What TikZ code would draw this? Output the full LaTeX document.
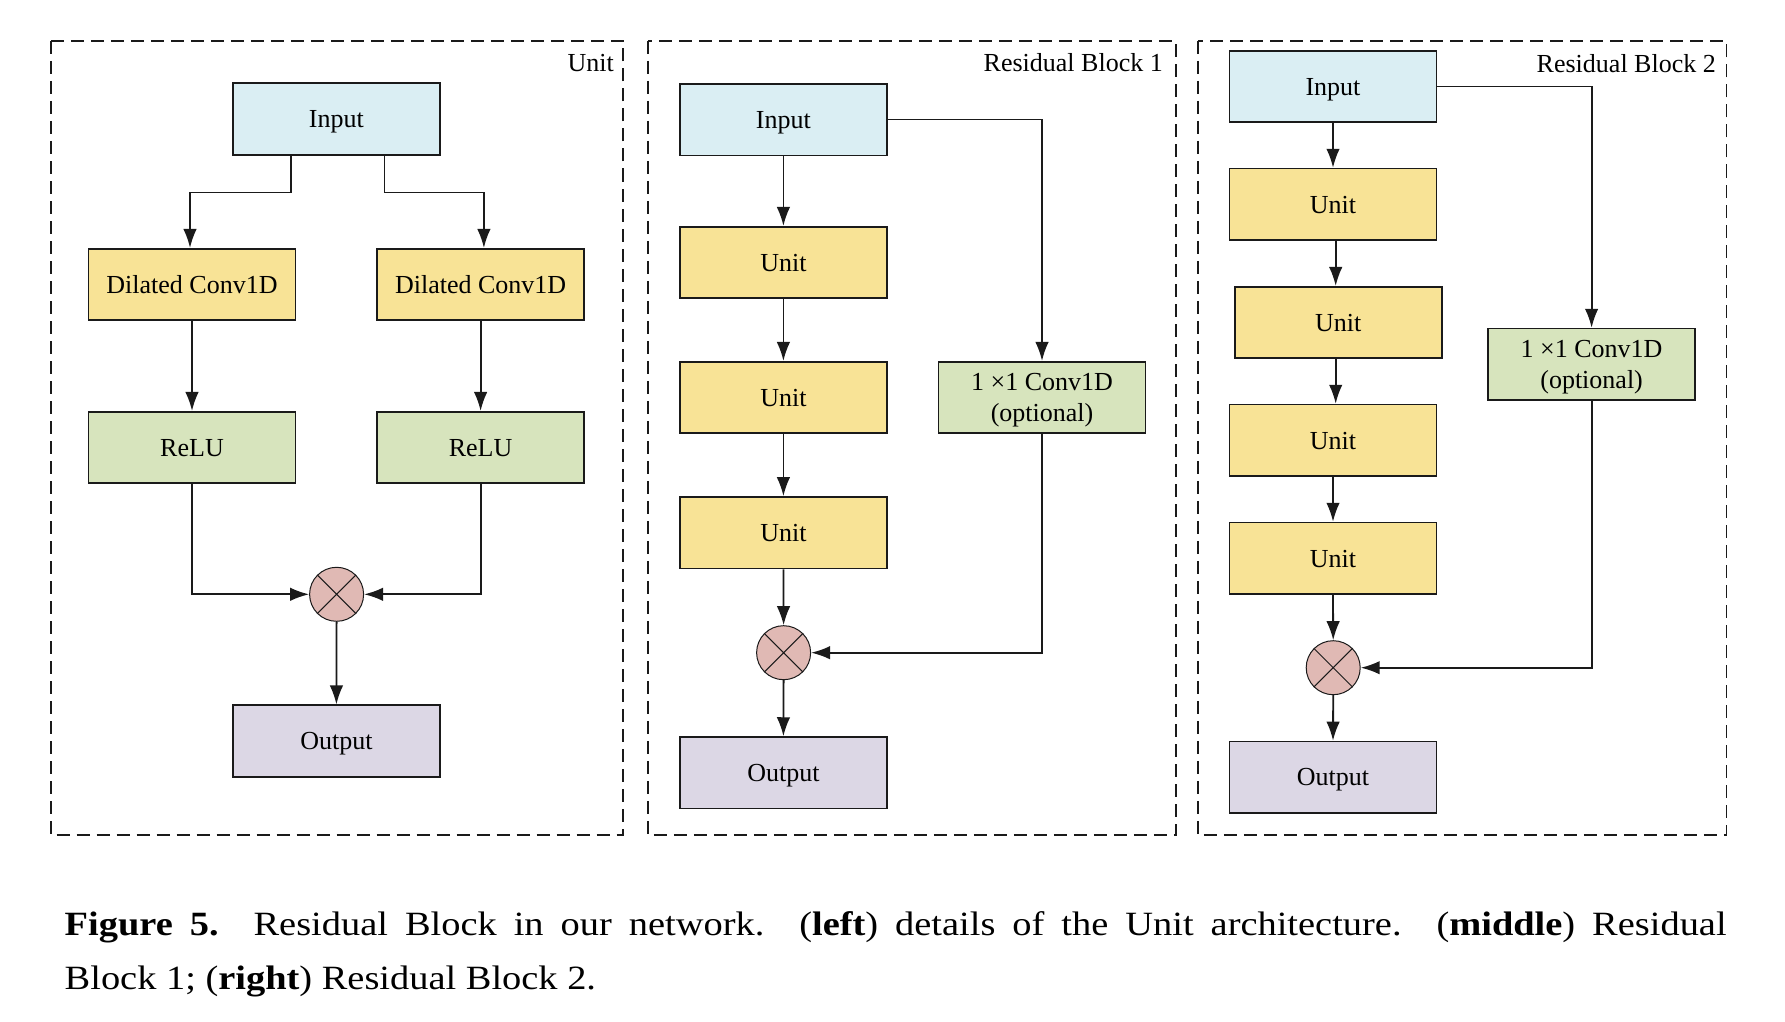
\documentclass[tikz,border=0pt]{standalone}
\usepackage{fontspec}
\setmainfont{Liberation Serif}
\newfontfamily\capfont[FakeStretch=1.13]{Liberation Serif}
\usetikzlibrary{arrows.meta,calc}
\definecolor{cin}{HTML}{DAEEF3}
\definecolor{cunit}{HTML}{F8E396}
\definecolor{cgreen}{HTML}{D7E4BD}
\definecolor{cout}{HTML}{DCD7E5}
\definecolor{cmul}{HTML}{E0B9B4}
\definecolor{cline}{HTML}{1A1A1A}
\begin{document}
\begin{tikzpicture}[x=1pt,y=-1pt,
  box/.style={draw=cline, line width=1.6pt, minimum width=207pt, minimum height=71.5pt,
    inner sep=0pt, align=center, font=\fontsize{26}{31}\selectfont, text depth=0pt},
  onel/.style={text height=17.5pt},
  inbox/.style={box, onel, fill=cin},
  unitbox/.style={box, onel, fill=cunit},
  greenbox/.style={box, fill=cgreen},
  outbox/.style={box, onel, fill=cout},
  mul/.style={circle, draw=cline, line width=1pt, fill=cmul, minimum size=54pt, inner sep=0pt},
  arr/.style={draw=cline, line width=1.8pt, line join=miter, -{Latex[length=19pt,width=13.5pt]}},
  frame/.style={draw=cline, line width=1.8pt, dash pattern=on 13pt off 7pt},
  paneltitle/.style={anchor=east, inner sep=0pt, font=\fontsize{26}{31}\selectfont}]

\fill[white] (0,0) rectangle (1785,1022);
\useasboundingbox (0,0) rectangle (1785,1022);

% ---------- Panel A: Unit ----------
\draw[frame] (50.7,41) rectangle (623.2,835);
\node[paneltitle] (tA) at (614,63) {Unit};
\node[inbox] (inA) at (336.4,119) {Input};
\node[unitbox] (dcA1) at (192,284.5) {Dilated Conv1D};
\node[unitbox] (dcA2) at (480.6,284.5) {Dilated Conv1D};
\node[greenbox, onel] (reA1) at (192,447.5) {ReLU};
\node[greenbox, onel] (reA2) at (480.6,447.5) {ReLU};
\node[mul] (mulA) at (336.6,594.3) {};
\node[outbox] (outA) at (336.4,741) {Output};

\draw[arr] ([xshift=-45.4pt]inA.south) -- ++(0,37) -| ([xshift=-2pt]dcA1.north);
\draw[arr] ([xshift=48pt]inA.south) -- ++(0,37) -| ([xshift=3.3pt]dcA2.north);
\draw[arr] (dcA1.south) -- (reA1.north);
\draw[arr] (dcA2.south) -- (reA2.north);
\draw[arr] (reA1.south) |- (mulA.west);
\draw[arr] (reA2.south) |- (mulA.east);
\draw[arr] (mulA.south) -- (outA.north);

% ---------- Panel B: Residual Block 1 ----------
\draw[frame] (647.9,41) rectangle (1175.7,835);
\node[paneltitle] (tB) at (1163,63) {Residual Block 1};
\node[inbox] (inB) at (783.4,119.6) {Input};
\node[unitbox] (u1B) at (783.4,262.5) {Unit};
\node[unitbox] (u2B) at (783.4,397.5) {Unit};
\node[unitbox] (u3B) at (783.4,532.7) {Unit};
\node[greenbox] (cvB) at (1042,397.5) {1 ×1 Conv1D\\(optional)};
\node[mul] (mulB) at (783.6,652.7) {};
\node[outbox] (outB) at (783.4,772.8) {Output};

\draw[arr] (inB.south) -- (u1B.north);
\draw[arr] (u1B.south) -- (u2B.north);
\draw[arr] (u2B.south) -- (u3B.north);
\draw[arr] (u3B.south) -- (mulB.north);
\draw[arr] (mulB.south) -- (outB.north);
\draw[arr] (inB.east) -| (cvB.north);
\draw[arr] (cvB.south) |- (mulB.east);

% ---------- Panel C: Residual Block 2 ----------
\draw[frame] (1197.9,41) rectangle (1726.4,835);
\node[paneltitle] (tC) at (1716,64) {Residual Block 2};
\node[inbox] (inC) at (1333,86.5) {Input};
\node[unitbox] (u1C) at (1333,204.3) {Unit};
\node[unitbox] (u2C) at (1338.2,322.5) {Unit};
\node[unitbox] (u3C) at (1333,440.3) {Unit};
\node[unitbox] (u4C) at (1333,558.3) {Unit};
\node[greenbox] (cvC) at (1591.6,364.3) {1 ×1 Conv1D\\(optional)};
\node[mul] (mulC) at (1333.2,667.7) {};
\node[outbox] (outC) at (1333,777.2) {Output};

\draw[arr] (inC.south) -- (u1C.north);
\draw[arr] ([xshift=2.7pt]u1C.south) -- ([xshift=-2.5pt]u2C.north);
\draw[arr] ([xshift=-2.5pt]u2C.south) -- ([xshift=2.7pt]u3C.north);
\draw[arr] (u3C.south) -- (u4C.north);
\draw[arr] (u4C.south) -- (mulC.north);
\draw[arr] (mulC.south) -- (outC.north);
\draw[arr] (inC.east) -| (cvC.north);
\draw[arr] (cvC.south) |- (mulC.east);

% crosses inside multiplication circles
\foreach \m in {mulA,mulB,mulC}{
  \draw[draw=cline, line width=1pt] (\m.north west) -- (\m.south east) (\m.north east) -- (\m.south west);
}

% ---------- Caption ----------
\node[anchor=base west, text width=1662pt, align=justify, inner sep=0pt,
  font=\capfont\fontsize{34}{54}\selectfont\nonfrenchspacing] (cap) at (64.5,935)
  {\textbf{Figure 5.} Residual Block in our network. (\textbf{left}) details of the Unit architecture. (\textbf{middle}) Residual\linebreak Block 1; (\textbf{right}) Residual Block 2.};
\end{tikzpicture}
\end{document}
